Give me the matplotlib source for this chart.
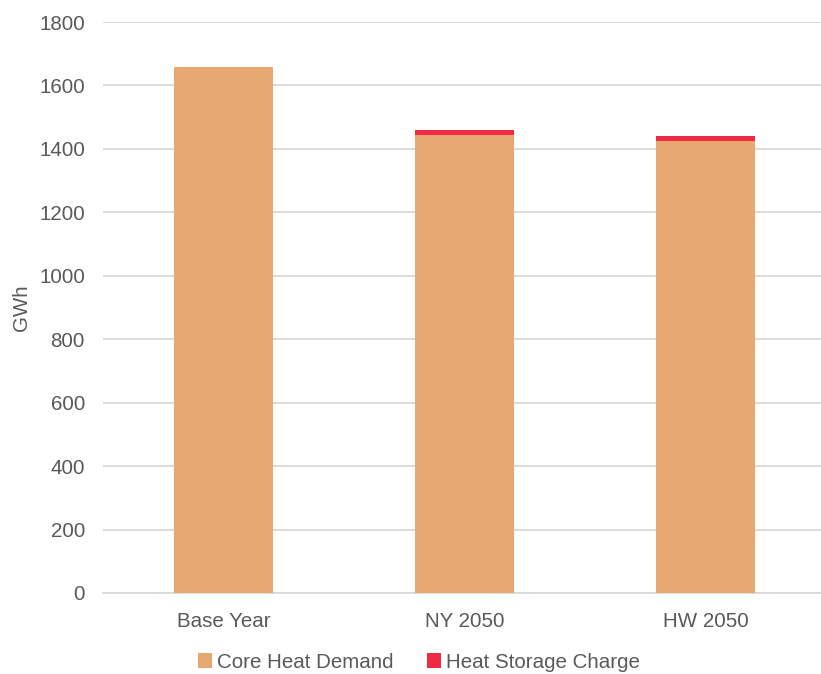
import matplotlib
matplotlib.use("Agg")
import matplotlib.pyplot as plt
import numpy as np

categories = ["Base Year", "NY 2050", "HW 2050"]
core_heat = [1659, 1443, 1426]
storage_charge = [0, 15, 16]
yticks = [0, 200, 400, 600, 800, 1000, 1200, 1400, 1600, 1800]

plt.rcParams['font.family'] = ['Liberation Sans', 'DejaVu Sans']
txt = '#595959'
fs = 14.8

fig = plt.figure(figsize=(8.21, 6.74), dpi=100)
ax = fig.add_axes([103/821, 81/674, 723/821, (593-22)/674])

x = np.arange(len(categories))
w = 0.41
ax.bar(x, core_heat, w, color='#E8A872', label='Core Heat Demand', zorder=3)
ax.bar(x, storage_charge, w, bottom=core_heat, color='#EE2A45', label='Heat Storage Charge', zorder=3)

ax.set_xlim(-0.5, 2.5)
ax.set_ylim(0, 1800)
ax.set_yticks(yticks)
ax.set_xticks(x)
ax.set_xticklabels(categories)
ax.yaxis.grid(True, color='#D9D9D9', linewidth=1.3, zorder=0)
for s in ['top', 'right', 'left']:
    ax.spines[s].set_visible(False)
ax.spines['bottom'].set_color('#D9D9D9')
ax.spines['bottom'].set_linewidth(1.3)
ax.tick_params(axis='both', length=0, labelsize=fs, colors=txt)
ax.tick_params(axis='y', pad=13)
ax.tick_params(axis='x', pad=14)
ax.set_ylabel('GWh', fontsize=fs, color=txt, labelpad=6)

leg = fig.legend(loc='center', bbox_to_anchor=(419/821, 1 - 662/674), ncol=2, frameon=False,
                 fontsize=fs, handlelength=0.7, handleheight=0.7, handletextpad=0.25, columnspacing=1.6)
for t in leg.get_texts():
    t.set_color(txt)

fig.savefig('out.png', dpi=100)
